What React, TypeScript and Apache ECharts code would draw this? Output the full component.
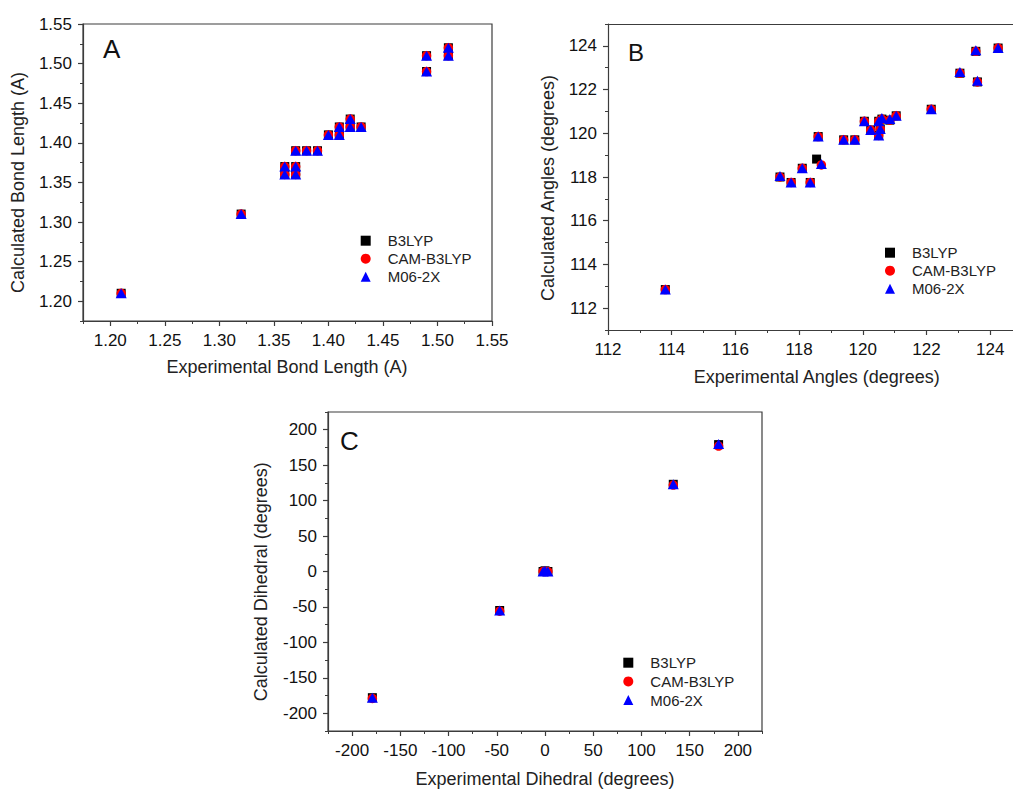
import React, { useEffect, useRef } from "react";
import * as echarts from "echarts";

// Panel A: bond lengths
const bondExp = [1.21, 1.32, 1.36, 1.36, 1.37, 1.37, 1.37, 1.38, 1.39, 1.40, 1.41, 1.41, 1.42, 1.42, 1.43, 1.49, 1.49, 1.51, 1.51];
const bondB3LYP = [1.21, 1.31, 1.37, 1.36, 1.39, 1.37, 1.36, 1.39, 1.39, 1.41, 1.42, 1.41, 1.43, 1.42, 1.42, 1.51, 1.49, 1.52, 1.51];
const bondCAM = [1.21, 1.31, 1.37, 1.36, 1.39, 1.37, 1.36, 1.39, 1.39, 1.41, 1.42, 1.41, 1.43, 1.42, 1.42, 1.51, 1.49, 1.52, 1.51];
const bondM06 = [1.21, 1.31, 1.37, 1.36, 1.39, 1.37, 1.36, 1.39, 1.39, 1.41, 1.42, 1.41, 1.43, 1.42, 1.42, 1.51, 1.49, 1.52, 1.51];
const bondTicks = [1.2, 1.25, 1.3, 1.35, 1.4, 1.45, 1.5, 1.55];

// Panel B: angles
const angleExp = [113.8, 117.4, 117.75, 118.1, 118.35, 118.6, 118.7, 119.4, 119.75, 120.05, 120.25, 120.5, 120.55, 120.5, 120.6, 120.85, 121.05, 122.15, 123.05, 123.55, 123.6, 124.25];
const angleExpB3LYP = [113.8, 117.4, 117.75, 118.1, 118.35, 118.6, 118.55, 119.4, 119.75, 120.05, 120.25, 120.5, 120.55, 120.5, 120.6, 120.85, 121.05, 122.15, 123.05, 123.55, 123.6, 124.25];
const angleB3LYP = [112.85, 118.0, 117.75, 118.4, 117.75, 119.85, 118.82, 119.7, 119.7, 120.55, 120.15, 120.55, 120.2, 119.9, 120.65, 120.6, 120.8, 121.1, 122.75, 123.75, 122.35, 123.9];
const angleCAM = [112.85, 118.0, 117.75, 118.4, 117.75, 119.85, 118.55, 119.7, 119.7, 120.55, 120.15, 120.55, 120.2, 119.9, 120.65, 120.6, 120.8, 121.1, 122.75, 123.75, 122.35, 123.9];
const angleM06 = [112.85, 118.05, 117.75, 118.4, 117.75, 119.85, 118.6, 119.7, 119.7, 120.55, 120.15, 120.55, 120.2, 119.9, 120.7, 120.65, 120.8, 121.1, 122.8, 123.8, 122.4, 123.9];
const angleXTicks = [112, 114, 116, 118, 120, 122, 124];
const angleYTicks = [112, 114, 116, 118, 120, 122, 124];

// Panel C: dihedrals
const dihedralExp = [-179, -47, -2, 0, 3, 133, 180];
const dihedralB3LYP = [-178, -55, 0, 1, 0, 123, 179];
const dihedralCAM = [-179, -56, 0, 0, 0, 122, 177];
const dihedralM06 = [-178, -55, 0, 1, 0, 123, 180];
const dihedralTicks = [-200, -150, -100, -50, 0, 50, 100, 150, 200];

const legendNames = ["B3LYP", "CAM-B3LYP", "M06-2X"];

const FONT = "'Liberation Sans', Arial, Helvetica, sans-serif";
const AXIS_COLOR = "#3c3c3c";

function pairs(xs: number[], ys: number[]) {
  return xs.map((x, i) => [x, ys[i]]);
}

function axes(
  gridIndex: number,
  isX: boolean,
  min: number,
  max: number,
  majors: number[],
  minorInterval: number,
  fmt: (v: number) => string
) {
  const position = isX ? "bottom" : "left";
  return [
    {
      type: "value",
      gridIndex,
      position,
      min,
      max,
      axisLine: { show: true, onZero: false, lineStyle: { color: AXIS_COLOR, width: 1.2 } },
      axisTick: { show: true, customValues: majors, length: 5, lineStyle: { color: AXIS_COLOR, width: 1.2 } },
      axisLabel: {
        customValues: majors,
        formatter: fmt,
        fontFamily: FONT,
        fontSize: 17,
        color: "#111",
        margin: 11,
        showMinLabel: true,
        showMaxLabel: true,
      },
      splitLine: { show: false },
    },
    {
      type: "value",
      gridIndex,
      position,
      min,
      max,
      interval: minorInterval,
      axisLine: { show: false, onZero: false },
      axisTick: { show: true, length: 3, lineStyle: { color: AXIS_COLOR, width: 1 } },
      axisLabel: { show: false },
      splitLine: { show: false },
    },
  ];
}

function seriesFor(idx: number, b: number[][], c: number[][], m: number[][]) {
  const common = { type: "scatter", xAxisIndex: idx * 2, yAxisIndex: idx * 2 };
  return [
    { ...common, name: legendNames[0], symbol: "rect", symbolSize: 9, itemStyle: { color: "#000000", opacity: 1 }, data: b },
    { ...common, name: legendNames[1], symbol: "circle", symbolSize: 9.5, itemStyle: { color: "#ff0000", opacity: 1 }, data: c },
    { ...common, name: legendNames[2], symbol: "triangle", symbolSize: [11, 10], itemStyle: { color: "#0000ff", opacity: 1 }, data: m },
  ];
}

function legendAt(markerCenterX: number, firstCenterY: number, gap: number) {
  return {
    orient: "vertical",
    left: markerCenterX - 5,
    top: firstCenterY - 7.5,
    padding: 0,
    itemWidth: 10,
    itemHeight: 10,
    itemGap: gap,
    textStyle: { fontFamily: FONT, fontSize: 15, color: "#222", lineHeight: 15, padding: [0, 0, 0, 12] },
    data: legendNames,
  };
}

function title(text: string, x: number, y: number, vertical: boolean) {
  return {
    type: "text",
    x,
    y,
    rotation: vertical ? Math.PI / 2 : 0,
    style: { text, fontFamily: FONT, fontSize: 18, fill: "#222", align: "center", verticalAlign: "middle" },
  };
}

export default function App() {
  const ref = useRef<HTMLDivElement>(null);

  useEffect(() => {
    if (!ref.current) return;
    const chart = echarts.init(ref.current, undefined, { renderer: "svg" });
    const f2 = (v: number) => v.toFixed(2);
    const f0 = (v: number) => String(Math.round(v));
    const gridStyle = {
      show: true,
      borderColor: AXIS_COLOR,
      borderWidth: 1.2,
      backgroundColor: "transparent",
      containLabel: false,
      outerBoundsMode: "none",
    };

    // Top border line for panel B (its right side runs off the picture)
    const topLineB = {
      type: "value",
      gridIndex: 1,
      position: "top",
      min: 112,
      max: 125,
      axisLine: { show: true, onZero: false, lineStyle: { color: AXIS_COLOR, width: 1.2 } },
      axisTick: { show: false },
      axisLabel: { show: false },
      splitLine: { show: false },
    };

    chart.setOption({
      animation: false,
      backgroundColor: "#ffffff",
      grid: [
        { ...gridStyle, left: 83, top: 24, width: 409, height: 297 },
        { ...gridStyle, show: false, left: 608, top: 24, width: 414, height: 306 },
        { ...gridStyle, left: 328, top: 412, width: 434, height: 319 },
      ],
      xAxis: [
        ...axes(0, true, 1.175, 1.55, bondTicks, 0.025, f2),
        ...axes(1, true, 112, 125, angleXTicks, 1, f0),
        ...axes(2, true, -225, 225, dihedralTicks, 25, f0),
        topLineB,
      ],
      yAxis: [
        ...axes(0, false, 1.175, 1.55, bondTicks, 0.025, f2),
        ...axes(1, false, 111, 125, angleYTicks, 1, f0),
        ...axes(2, false, -225, 225, dihedralTicks, 25, f0),
      ],
      legend: [legendAt(365.7, 240.7, 3), legendAt(890, 252.7, 3), legendAt(628.3, 662.7, 3.7)],
      graphic: [
        { type: "text", left: 103, top: 36, style: { text: "A", fontFamily: FONT, fontSize: 26, fill: "#111" } },
        { type: "text", left: 628, top: 40, style: { text: "B", fontFamily: FONT, fontSize: 24, fill: "#111" } },
        { type: "text", left: 340, top: 428, style: { text: "C", fontFamily: FONT, fontSize: 26, fill: "#111" } },
        title("Experimental Bond Length (A)", 287, 366.7, false),
        title("Calculated Bond Length (A)", 18, 182.5, true),
        title("Experimental Angles (degrees)", 816.7, 376.7, false),
        title("Calculated Angles (degrees)", 548.3, 188, true),
        title("Experimental Dihedral (degrees)", 545, 779, false),
        title("Calculated Dihedral (degrees)", 260.7, 581.7, true),
      ],
      series: [
        ...seriesFor(0, pairs(bondExp, bondB3LYP), pairs(bondExp, bondCAM), pairs(bondExp, bondM06)),
        ...seriesFor(1, pairs(angleExpB3LYP, angleB3LYP), pairs(angleExp, angleCAM), pairs(angleExp, angleM06)),
        ...seriesFor(2, pairs(dihedralExp, dihedralB3LYP), pairs(dihedralExp, dihedralCAM), pairs(dihedralExp, dihedralM06)),
      ],
    });

    return () => chart.dispose();
  }, []);

  return (
    <div
      ref={ref}
      style={{ position: "absolute", left: 0, top: 0, width: 1013, height: 789, background: "#fff", overflow: "hidden" }}
    />
  );
}
